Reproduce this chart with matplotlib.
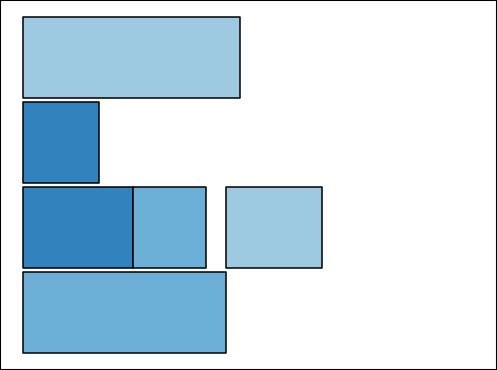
import matplotlib
matplotlib.use('Agg')
import matplotlib.pyplot as plt

# 每行的区段: (起点, 宽度)
rows = [0, 1, 2, 3]
segments = [
    [(0, 20.0)],
    [(0, 7.0)],
    [(0, 10.15), (10.15, 6.75), (18.7, 8.85)],
    [(0, 18.7)],
]
light = '#9ecae1'
medium = '#6baed6'
dark = '#3182bd'
colors = [
    [light],
    [dark],
    [dark, medium, light],
    [medium],
]

fig = plt.figure(figsize=(4.97, 3.7), dpi=100)
ax = fig.add_axes([0, 0, 1, 1])

for r, segs, cols in zip(rows, segments, colors):
    ax.broken_barh(segs, (r - 0.475, 0.95), facecolors=cols,
                   edgecolor='black', linewidth=1.1)

ax.set_xlim(-2.12, 43.7)
ax.set_ylim(3.67, -0.675)
ax.set_xticks([])
ax.set_yticks([])
for s in ax.spines.values():
    s.set_linewidth(1.5)

plt.savefig('out.png', dpi=100)
